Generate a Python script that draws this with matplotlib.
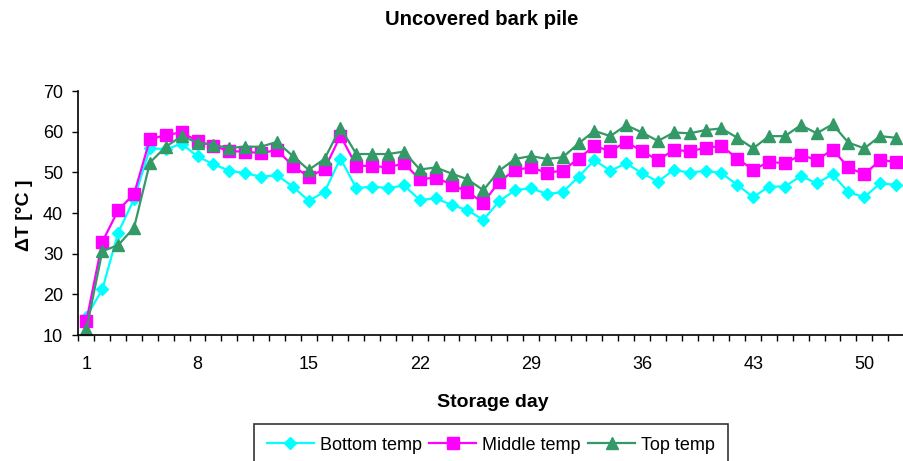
import matplotlib
matplotlib.use("Agg")
import matplotlib.pyplot as plt
from matplotlib.ticker import FixedLocator, NullFormatter

plt.rcParams['font.family'] = ['Liberation Sans', 'DejaVu Sans']

days = list(range(1, 53))
bottom_temp = [14.5, 21.2, 35.2, 43.4, 55.9, 55.7, 57.0, 53.9, 52.0, 50.4,
               49.8, 48.9, 49.3, 46.5, 43.0, 45.2, 53.4, 46.1, 46.5, 46.1,
               46.8, 43.2, 43.6, 42.0, 40.7, 38.3, 42.9, 45.6, 46.1, 44.7,
               45.1, 48.9, 53.0, 50.4, 52.2, 49.8, 47.7, 50.6, 49.9, 50.4,
               49.8, 46.9, 43.9, 46.5, 46.5, 49.1, 47.3, 49.5, 45.1, 43.9,
               47.3, 46.9]
middle_temp = [13.5, 32.9, 40.7, 44.7, 58.1, 59.2, 59.8, 57.7, 56.5, 55.2,
               55.1, 54.7, 55.5, 51.6, 48.9, 50.8, 59.0, 51.6, 51.6, 51.2,
               52.2, 48.3, 48.7, 47.0, 45.2, 42.5, 47.7, 50.6, 51.2, 49.9,
               50.4, 53.4, 56.5, 55.2, 57.5, 55.2, 53.0, 55.5, 55.2, 56.0,
               56.5, 53.4, 50.6, 52.6, 52.2, 54.3, 53.0, 55.6, 51.2, 49.5,
               53.0, 52.6]
top_temp = [11.4, 30.6, 32.1, 36.4, 52.4, 56.3, 58.9, 57.3, 56.7, 56.0,
            56.3, 56.3, 57.5, 54.0, 50.6, 53.3, 61.0, 54.5, 54.5, 54.5,
            55.1, 50.7, 51.2, 49.7, 48.3, 45.6, 50.4, 53.3, 54.0, 53.3,
            53.7, 57.1, 60.2, 58.9, 61.6, 59.8, 57.7, 59.8, 59.6, 60.4,
            60.8, 58.5, 55.9, 58.9, 58.9, 61.6, 59.6, 61.8, 57.3, 55.9,
            58.9, 58.5]
x_tick_days = [1, 8, 15, 22, 29, 36, 43, 50]
y_ticks = [10, 20, 30, 40, 50, 60, 70]

W, H = 904, 461
fig = plt.figure(figsize=(W / 100, H / 100), dpi=100)
ax = fig.add_axes([78.5 / W, 1 - 335 / H, (904 - 78.5) / W, (335 - 91) / H])

ax.plot(days, bottom_temp, color='#00FFFF', lw=1.6, marker='D', ms=6.5,
        label='Bottom temp', clip_on=False)
ax.plot(days, middle_temp, color='#FF00FF', lw=1.6, marker='s', ms=8,
        label='Middle temp', clip_on=False)
ax.plot(days, top_temp, color='#339966', lw=1.6, marker='^', ms=9,
        label='Top temp', clip_on=False)

ax.set_xlim(0.5, len(days) + 0.5)
ax.set_ylim(10, 70)
ax.set_yticks(y_ticks)
ax.set_xticks(x_tick_days)
ax.xaxis.set_minor_locator(FixedLocator([d - 0.5 for d in days] + [len(days) + 0.5]))
ax.xaxis.set_minor_formatter(NullFormatter())
ax.tick_params(axis='x', which='major', length=0, pad=15, labelsize=13)
ax.tick_params(axis='x', which='minor', length=4, width=1, direction='out')
ax.tick_params(axis='y', which='major', length=4, width=1, direction='out',
               pad=7, labelsize=13)
for s in ['top', 'right']:
    ax.spines[s].set_visible(False)
for s in ['left', 'bottom']:
    ax.spines[s].set_linewidth(1.2)

fig.text(482 / W, 1 - 25 / H, 'Uncovered bark pile', ha='center', va='baseline',
         fontsize=14.6, fontweight='bold')
fig.text(493 / W, 1 - 407 / H, 'Storage day', ha='center', va='baseline',
         fontsize=14, fontweight='bold')
fig.text(25 / W, 1 - 215 / H, 'ΔT [°C ]', ha='center', va='center',
         rotation=90, fontsize=14, fontweight='bold')

leg = fig.legend(loc='upper center', bbox_to_anchor=(491 / W, 1 - 424 / H),
                 ncol=3, fontsize=13, frameon=True, fancybox=False,
                 edgecolor='black', handlelength=2.6, handletextpad=0.35,
                 columnspacing=0.4, borderpad=0.7, borderaxespad=0)
leg.get_frame().set_linewidth(1.2)

fig.savefig('out.png', dpi=100)
